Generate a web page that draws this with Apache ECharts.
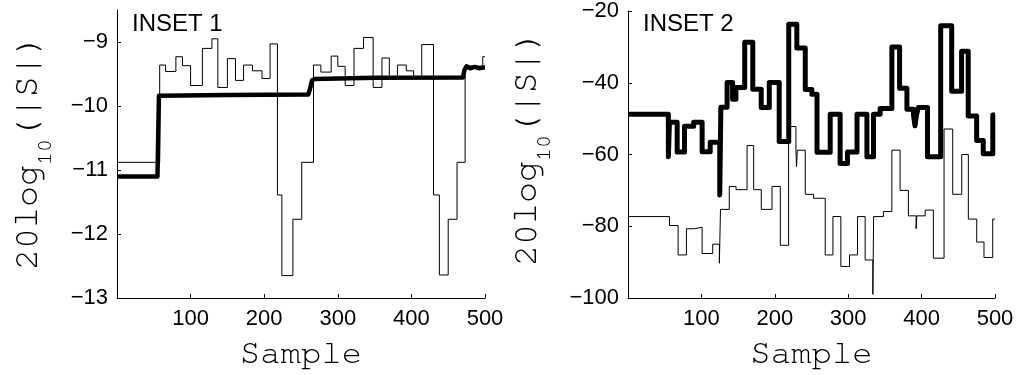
<!DOCTYPE html>
<html>
<head>
<meta charset="utf-8">
<script src="https://cdn.jsdelivr.net/npm/echarts@6/dist/echarts.min.js"></script>
<style>
  html, body { margin: 0; padding: 0; background: #fff; }
  #chart { width: 1026px; height: 375px; }
</style>
</head>
<body>
<div id="chart"></div>
<script>
// Tick positions / labels
const sampleTicks = [100, 200, 300, 400, 500];
const inset1Ticks = [-13, -12, -11, -10, -9];
const inset2Ticks = [-100, -80, -60, -40, -20];

// INSET 1, heavy trace: polyline vertices [sample, dB]
const inset1Heavy = [
  [0, -11.10], [55, -11.10], [57, -9.84], [150, -9.83], [260, -9.82],
  [263, -9.70], [265, -9.60], [268, -9.58], [350, -9.56], [470, -9.555],
  [472, -9.44], [475, -9.38], [480, -9.41], [486, -9.39], [492, -9.41],
  [497, -9.40], [500, -9.40]
];

// INSET 1, light trace: [sample where level starts, dB level]
const inset1Light = [
  [0, -10.88], [58, -9.36], [66, -9.46], [80, -9.23], [89, -9.37],
  [100, -9.68], [116, -9.10], [129, -8.95], [137, -9.71], [150, -9.26],
  [161, -9.60], [172, -9.36], [184, -9.45], [197, -9.57], [208, -9.03],
  [218, -11.39], [224, -12.65], [239, -11.77], [251, -10.88], [267, -9.36],
  [277, -9.47], [291, -9.22], [300, -9.38], [310, -9.68], [322, -9.10],
  [335, -8.93], [348, -9.71], [360, -9.25], [370, -9.58], [381, -9.36],
  [393, -9.45], [403, -9.57], [414, -9.04], [430, -11.39], [438, -12.64],
  [450, -11.77], [462, -10.88], [473, -9.38], [497, -9.23], [500, -9.23]
];

// INSET 2, heavy trace: [sample where level starts, dB level]
const inset2Heavy = [
  [0, -48.8], [55, -60.6], [56.5, -51.0], [67, -59.3], [77, -52.1],
  [89.5, -51.0], [101, -59.2], [112, -56.6], [125, -71.3], [126.5, -46.8],
  [135, -39.9], [142.5, -44.6], [147, -41.3], [159, -28.7], [170, -41.8],
  [181.5, -46.9], [192.5, -39.9], [206, -56.4], [219, -23.7], [230, -30.3],
  [241.5, -41.9], [250.5, -43.2], [257.5, -59.4], [275.5, -48.8], [289, -62.5],
  [299, -59.3], [312, -48.8], [325.5, -60.6], [334.5, -48.8], [343.5, -47.2],
  [359.5, -30.0], [370, -41.5], [380, -47.4], [389, -49.0], [391, -52.0],
  [393, -49.0], [395.5, -46.9], [408, -60.6], [426, -24.1], [441, -42.4],
  [454.5, -31.2], [463.5, -49.3], [475, -56.1], [484, -59.8], [497, -49.0],
  [500, -49.0]
];

// INSET 2, light trace: [sample where level starts, dB level]
const inset2Light = [
  [0, -77.3], [56.5, -79.8], [68.3, -88.0], [79.6, -80.7], [90, -80.3],
  [101, -87.6], [115.4, -85.0], [124.5, -90.3], [126, -75.3], [138, -68.9],
  [147.2, -69.8], [162.2, -57.5], [171.2, -69.8], [181.6, -75.3], [196.2, -68.9],
  [207.5, -85.3], [218.8, -52.2], [228.8, -58.8], [229.6, -63.4], [230.6, -58.8],
  [241.5, -71.1], [252.8, -72.2], [268.7, -88.0], [279.2, -77.3], [290, -91.2],
  [301.8, -88.0], [312.7, -77.3], [323.1, -89.4], [333.6, -99.0], [334.6, -77.3],
  [348, -75.9], [359.5, -58.8], [370.7, -70.0], [382, -77.1], [392.5, -80.7],
  [393.5, -77.1], [404.8, -75.5], [416, -88.9], [430.6, -52.9], [442.4, -71.1],
  [454.7, -60.0], [463.7, -78.0], [475.1, -84.4], [485, -88.7], [496.9, -78.0],
  [500, -78.0]
];

const MONO = '"Nimbus Mono PS", "Nimbus Mono L", FreeMono, Courier, "Liberation Mono", monospace';
const minus = v => String(v).replace('-', '\u2212');
const tickFont = { fontFamily: 'Liberation Sans', fontSize: 22, color: '#000' };
const axisLineStyle = { color: '#000', width: 1 };

function xAxisFor(gridIndex) {
  return {
    type: 'value', gridIndex, min: 0, max: 500,
    name: 'Sample', nameLocation: 'middle', nameGap: 38,
    nameTextStyle: { fontFamily: MONO, fontSize: 34, color: '#000' },
    axisLine: { show: true, lineStyle: axisLineStyle },
    axisTick: { show: true, inside: true, length: 4, customValues: sampleTicks, lineStyle: axisLineStyle },
    axisLabel: Object.assign({ margin: 10, customValues: sampleTicks, formatter: minus }, tickFont),
    splitLine: { show: false }
  };
}

function yAxisFor(gridIndex, min, max, ticks) {
  return {
    type: 'value', gridIndex, min, max,
    axisLine: { show: true, lineStyle: axisLineStyle },
    axisTick: { show: true, inside: true, length: 4, customValues: ticks, lineStyle: axisLineStyle },
    axisLabel: Object.assign({ margin: 9, customValues: ticks, formatter: minus }, tickFont),
    splitLine: { show: false }
  };
}

// Vertical "20log10(|S|)" label with a lowered subscript, reading bottom to top
const MAIN_PX = 35, SUB_PX = 21.5;
function dbLabel(cx, startY) {
  const adv = MAIN_PX * 0.6, subAdv = SUB_PX * 0.6;
  const txt = (text, x, y, size) => ({
    type: 'text', x, y,
    style: { text, font: size + 'px ' + MONO, fill: '#000',
             align: 'left', verticalAlign: 'middle', textAlign: 'left', textVerticalAlign: 'middle' }
  });
  return {
    type: 'group', x: cx, y: startY, rotation: Math.PI / 2,
    children: [
      txt('20log', 0, 0, MAIN_PX),
      txt('10', 5 * adv, 18.5, SUB_PX),
      txt('(|S|)', 5 * adv + 2 * subAdv, 0, MAIN_PX)
    ]
  };
}

const chart = echarts.init(document.getElementById('chart'), null, { renderer: 'canvas' });
chart.setOption({
  animation: false,
  backgroundColor: '#fff',
  grid: [
    { left: 117, top: 10, width: 368, height: 293 },
    { left: 628, top: 10, width: 367, height: 292 }
  ],
  xAxis: [xAxisFor(0), xAxisFor(1)],
  yAxis: [
    yAxisFor(0, -13, -8.5, inset1Ticks),
    yAxisFor(1, -100, -20, inset2Ticks)
  ],
  graphic: [
    { type: 'text', left: 132, top: 12, style: { text: 'INSET 1', font: '24px "Liberation Sans"', fill: '#000' } },
    { type: 'text', left: 643, top: 12, style: { text: 'INSET 2', font: '24px "Liberation Sans"', fill: '#000' } },
    dbLabel(26, 270),
    dbLabel(525, 266)
  ],
  series: [
    { type: 'line', xAxisIndex: 0, yAxisIndex: 0, data: inset1Light, step: 'end', showSymbol: false,
      lineStyle: { color: '#000', width: 1 }, z: 2 },
    { type: 'line', xAxisIndex: 0, yAxisIndex: 0, data: inset1Heavy, showSymbol: false,
      lineStyle: { color: '#000', width: 4.5, join: 'round' }, z: 3 },
    { type: 'line', xAxisIndex: 1, yAxisIndex: 1, data: inset2Light, step: 'end', showSymbol: false,
      lineStyle: { color: '#000', width: 1 }, z: 2 },
    { type: 'line', xAxisIndex: 1, yAxisIndex: 1, data: inset2Heavy, step: 'end', showSymbol: false,
      lineStyle: { color: '#000', width: 5, join: 'round' }, z: 3 }
  ]
});
</script>
</body>
</html>
